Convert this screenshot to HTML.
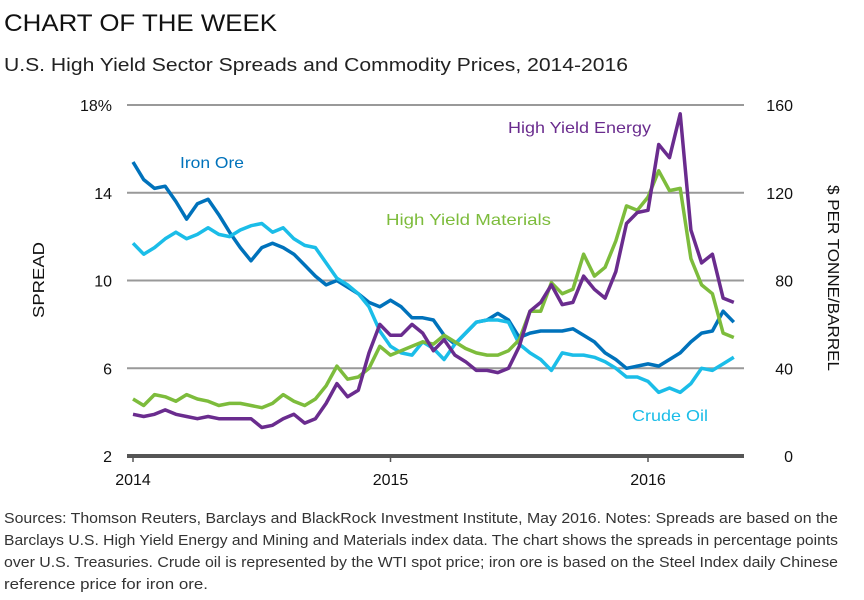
<!DOCTYPE html>
<html><head><meta charset="utf-8"><style>
body{margin:0;background:#fff;width:864px;height:600px;overflow:hidden;font-family:"Liberation Sans",sans-serif;}
svg{position:absolute;left:0;top:0}
</style></head><body>
<svg id="c" width="864" height="600">
<text x="4" y="31" font-size="24" fill="#111" textLength="273" lengthAdjust="spacingAndGlyphs">CHART OF THE WEEK</text>
<text x="4" y="71" font-size="18" fill="#222" textLength="624" lengthAdjust="spacingAndGlyphs">U.S. High Yield Sector Spreads and Commodity Prices, 2014-2016</text>
<text transform="translate(44,280) rotate(-90)" text-anchor="middle" font-size="16" fill="#111" textLength="76" lengthAdjust="spacingAndGlyphs">SPREAD</text>
<text transform="translate(828,278) rotate(90)" text-anchor="middle" font-size="16" fill="#111" textLength="186" lengthAdjust="spacingAndGlyphs">$ PER TONNE/BARREL</text>
<g id="grid"></g><g id="lines"></g>
<text x="180" y="168" font-size="16" fill="#0072bb" textLength="64" lengthAdjust="spacingAndGlyphs">Iron Ore</text>
<text x="386" y="225" font-size="16" fill="#7dbc3c" textLength="165" lengthAdjust="spacingAndGlyphs">High Yield Materials</text>
<text x="508" y="133" font-size="16" fill="#6a2c8e" textLength="143" lengthAdjust="spacingAndGlyphs">High Yield Energy</text>
<text x="632" y="421" font-size="16" fill="#1bbde8" textLength="76" lengthAdjust="spacingAndGlyphs">Crude Oil</text>
<g font-size="15" fill="#333">
<text x="4" y="523" textLength="834" lengthAdjust="spacingAndGlyphs">Sources: Thomson Reuters, Barclays and BlackRock Investment Institute, May 2016. Notes: Spreads are based on the</text>
<text x="4" y="545" textLength="834" lengthAdjust="spacingAndGlyphs">Barclays U.S. High Yield Energy and Mining and Materials index data. The chart shows the spreads in percentage points</text>
<text x="4" y="567" textLength="834" lengthAdjust="spacingAndGlyphs">over U.S. Treasuries. Crude oil is represented by the WTI spot price; iron ore is based on the Steel Index daily Chinese</text>
<text x="4" y="589" textLength="204" lengthAdjust="spacingAndGlyphs">reference price for iron ore.</text>
</g>
</svg>
<script>
const spreadTicks=[2,6,10,14,18];
const spreadTickLabels=["2","6","10","14","18%"];
const priceTickLabels=["0","40","80","120","160"];
const yearTicks=[2014,2015,2016];
const startYear=2014, stepYears=1/24;
const energy=[3.9,3.8,3.9,4.1,3.9,3.8,3.7,3.8,3.7,3.7,3.7,3.7,3.3,3.4,3.7,3.9,3.5,3.7,4.4,5.3,4.7,5.0,6.7,8.0,7.5,7.5,8.0,7.6,6.8,7.3,6.6,6.3,5.9,5.9,5.8,6.0,7.0,8.6,9.0,9.8,8.9,9.0,10.2,9.6,9.2,10.4,12.6,13.1,13.2,16.2,15.6,17.6,12.3,10.8,11.2,9.2,9.0];
const materials=[4.6,4.3,4.8,4.7,4.5,4.8,4.6,4.5,4.3,4.4,4.4,4.3,4.2,4.4,4.8,4.5,4.3,4.6,5.2,6.1,5.5,5.6,6.0,7.0,6.6,6.8,7.0,7.2,7.1,7.5,7.2,6.9,6.7,6.6,6.6,6.8,7.3,8.6,8.6,9.9,9.4,9.6,11.2,10.2,10.6,11.8,13.4,13.2,13.8,15.0,14.1,14.2,11.0,9.8,9.4,7.6,7.4];
const ironOre=[134,126,122,123,116,108,115,117,110,102,95,89,95,97,95,92,87,82,78,80,77,74,70,68,71,68,63,63,62,55,51,56,61,62,65,62,54,56,57,57,57,58,55,52,47,44,40,41,42,41,44,47,52,56,57,66,61];
const crudeOil=[97,92,95,99,102,99,101,104,101,100,103,105,106,102,104,99,96,95,88,81,78,74,68,57,50,47,46,52,49,44,51,56,61,62,62,61,51,47,44,39,47,46,46,45,43,40,36,36,34,29,31,29,33,40,39,42,45];
const X0=127,X1=744,YB=456,YT=105;
function xs(yr){return 133+(yr-2014)*257.5;}
function ys(v){return YB-(v-2)*(YB-YT)/16;}
function yp(p){return YB-p*(YB-YT)/160;}
const NS="http://www.w3.org/2000/svg";
const grid=document.getElementById('grid'), lines=document.getElementById('lines');
function mk(tag,attrs,parent){const e=document.createElementNS(NS,tag);for(const k in attrs)e.setAttribute(k,attrs[k]);parent.appendChild(e);return e;}
spreadTicks.forEach((v,i)=>{
  const y=ys(v);
  const l=mk('line',{x1:X0,x2:X1,y1:y,y2:y,stroke:i==0?'#555':'#999','stroke-width':i==0?4:2},grid);
  
  
  const t=mk('text',{x:112,y:y+6,'text-anchor':'end','font-size':16,fill:'#111'},grid);
  t.textContent=spreadTickLabels[i];
  
  
  const t2=mk('text',{x:793,y:y+6,'text-anchor':'end','font-size':16,fill:'#111'},grid);
  t2.textContent=priceTickLabels[i];
  
  
});
yearTicks.forEach(yr=>{
  const x=xs(yr);
  const l=mk('line',{x1:x,x2:x,y1:YB,y2:YB+6,stroke:'#555','stroke-width':1.5},grid);
  
  
  const t=mk('text',{x:x,y:485,'text-anchor':'middle','font-size':16,fill:'#111'},grid);
  t.textContent=yr;
  
  
});
function draw(arr,scale,color,name){
  const d=arr.map((v,i)=>(i?'L':'M')+xs(startYear+i*stepYears).toFixed(1)+','+scale(v).toFixed(1)).join(' ');
  const p=mk('path',{d:d,fill:'none',stroke:color,'stroke-width':3.5,'stroke-linejoin':'round'},lines);
  
  
}
draw(ironOre,yp,'#0072bb','line-iron-ore');
draw(crudeOil,yp,'#1bbde8','line-crude-oil');
draw(materials,ys,'#7dbc3c','line-high-yield-materials');
draw(energy,ys,'#6a2c8e','line-high-yield-energy');
</script>
</body></html>
